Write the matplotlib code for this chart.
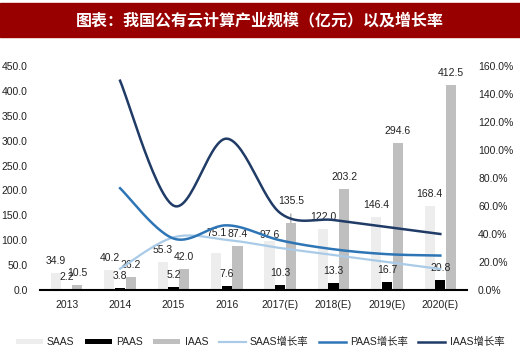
import numpy as np
import matplotlib.pyplot as plt
from matplotlib.patches import Rectangle

plt.rcParams['font.family'] = ['Liberation Sans', 'Noto Sans CJK SC', 'DejaVu Sans']

# Data
years = ["2013", "2014", "2015", "2016", "2017(E)", "2018(E)", "2019(E)", "2020(E)"]
saas = [34.9, 40.2, 55.3, 75.1, 97.6, 122.0, 146.4, 168.4]
paas = [2.2, 3.8, 5.2, 7.6, 10.3, 13.3, 16.7, 20.8]
iaas = [10.5, 26.2, 42.0, 87.4, 135.5, 203.2, 294.6, 412.5]
# growth rates (%), starting 2014
saas_growth = [15.2, 37.6, 35.8, 30.0, 25.0, 20.0, 15.0]
paas_growth = [72.7, 36.8, 46.2, 35.5, 29.1, 25.6, 24.6]
iaas_growth = [149.5, 60.3, 108.1, 55.0, 50.0, 45.0, 40.0]

c_saas = "#ededed"
c_paas = "#000000"
c_iaas = "#bfbfbf"
c_saas_g = "#a9cbe8"
c_paas_g = "#2e75b6"
c_iaas_g = "#1f3b66"
txt = "#222222"


def smooth(xs, ys, n=30):
    # Excel-like smoothed line (Catmull-Rom as cubic bezier)
    xs = np.asarray(xs, float)
    ys = np.asarray(ys, float)
    px = np.concatenate([[xs[0]], xs, [xs[-1]]])
    py = np.concatenate([[ys[0]], ys, [ys[-1]]])
    ox, oy = [], []
    t = np.linspace(0, 1, n)
    for i in range(1, len(px) - 2):
        p0 = np.array([px[i - 1], py[i - 1]])
        p1 = np.array([px[i], py[i]])
        p2 = np.array([px[i + 1], py[i + 1]])
        p3 = np.array([px[i + 2], py[i + 2]])
        c1 = p1 + (p2 - p0) / 6
        c2 = p2 - (p3 - p1) / 6
        pts = ((1 - t) ** 3)[:, None] * p1 + (3 * (1 - t) ** 2 * t)[:, None] * c1 \
            + (3 * (1 - t) * t ** 2)[:, None] * c2 + (t ** 3)[:, None] * p2
        ox.extend(pts[:, 0])
        oy.extend(pts[:, 1])
    return ox, oy


fig = plt.figure(figsize=(5.2, 3.6), dpi=100)
fig.patches.append(Rectangle((0, 1 - 37 / 360), 1, 34 / 360, transform=fig.transFigure,
                             color="#980000", zorder=0))
fig.text(0.5, 1 - 20 / 360, "图表：我国公有云计算产业规模（亿元）以及增长率",
         color="white", fontsize=11.5, fontweight="bold", ha="center", va="center",
         family=['Noto Sans CJK SC', 'DejaVu Sans'])

ax = fig.add_axes([40 / 520, 70 / 360, 427 / 520, 224 / 360])
x = np.arange(len(years))
w = 0.19
off = 0.2
b1 = ax.bar(x - off, saas, w, color=c_saas, label="SAAS")
b2 = ax.bar(x, paas, w, color=c_paas, label="PAAS")
b3 = ax.bar(x + off, iaas, w, color=c_iaas, label="IAAS")

ax.set_ylim(0, 450)
ax.set_xlim(-0.5, len(years) - 0.5)
ax.set_yticks(np.arange(0, 451, 50))
ax.set_yticklabels([f"{v:.1f}" for v in np.arange(0, 451, 50)])
ax.set_xticks(x)
ax.set_xticklabels(years)
ax.tick_params(axis="y", length=0, pad=9, labelsize=7.5, colors=txt)
ax.tick_params(axis="x", length=0, pad=7, labelsize=7.5, colors=txt)
for s in ["top", "left", "right"]:
    ax.spines[s].set_visible(False)
ax.spines["bottom"].set_linewidth(1.5)

# data labels, offset in px above bar top (manual nudges like the source)
nudge = {("s", 3): 20, ("s", 4): 6}
for key, vals, xo in [("s", saas, -off), ("p", paas, 0), ("i", iaas, off)]:
    for i, v in enumerate(vals):
        if key == "i" and i == 4:
            continue
        dy = nudge.get((key, i), 12)
        ax.annotate(f"{v:.1f}", (x[i] + xo, v), xytext=(0, dy * 0.72),
                    textcoords="offset points", ha="center", va="center",
                    fontsize=7.5, color=txt)
ax.annotate(f"{iaas[4]:.1f}", (x[4] + off, iaas[4]), xytext=(0, 22 * 0.72),
            textcoords="offset points", ha="center", va="center", fontsize=7.5,
            color=txt,
            arrowprops=dict(arrowstyle="-", color="#999999", lw=0.8, shrinkA=4, shrinkB=0))

ax2 = ax.twinx()
ax2.set_ylim(0, 160)
ax2.set_yticks(np.arange(0, 161, 20))
ax2.set_yticklabels([f"{v:.1f}%" for v in np.arange(0, 161, 20)])
ax2.tick_params(axis="y", length=0, pad=8, labelsize=7.5, colors=txt)
for s in ["top", "left", "right", "bottom"]:
    ax2.spines[s].set_visible(False)

gx = x[1:]
l1, = ax2.plot(*smooth(gx, saas_growth), color=c_saas_g, lw=1.6, label="SAAS增长率")
l2, = ax2.plot(*smooth(gx, paas_growth), color=c_paas_g, lw=1.8, label="PAAS增长率")
l3, = ax2.plot(*smooth(gx, iaas_growth), color=c_iaas_g, lw=1.8, label="IAAS增长率")

fig.legend([b1, b2, b3, l1, l2, l3],
           ["SAAS", "PAAS", "IAAS", "SAAS增长率", "PAAS增长率", "IAAS增长率"],
           loc="center", bbox_to_anchor=(0.5, 1 - 342 / 360), ncol=6, frameon=False,
           fontsize=7.5, handlelength=2.6, handleheight=0.45, handletextpad=0.4,
           columnspacing=1.0, labelcolor=txt)

fig.savefig("out.png", dpi=100)
